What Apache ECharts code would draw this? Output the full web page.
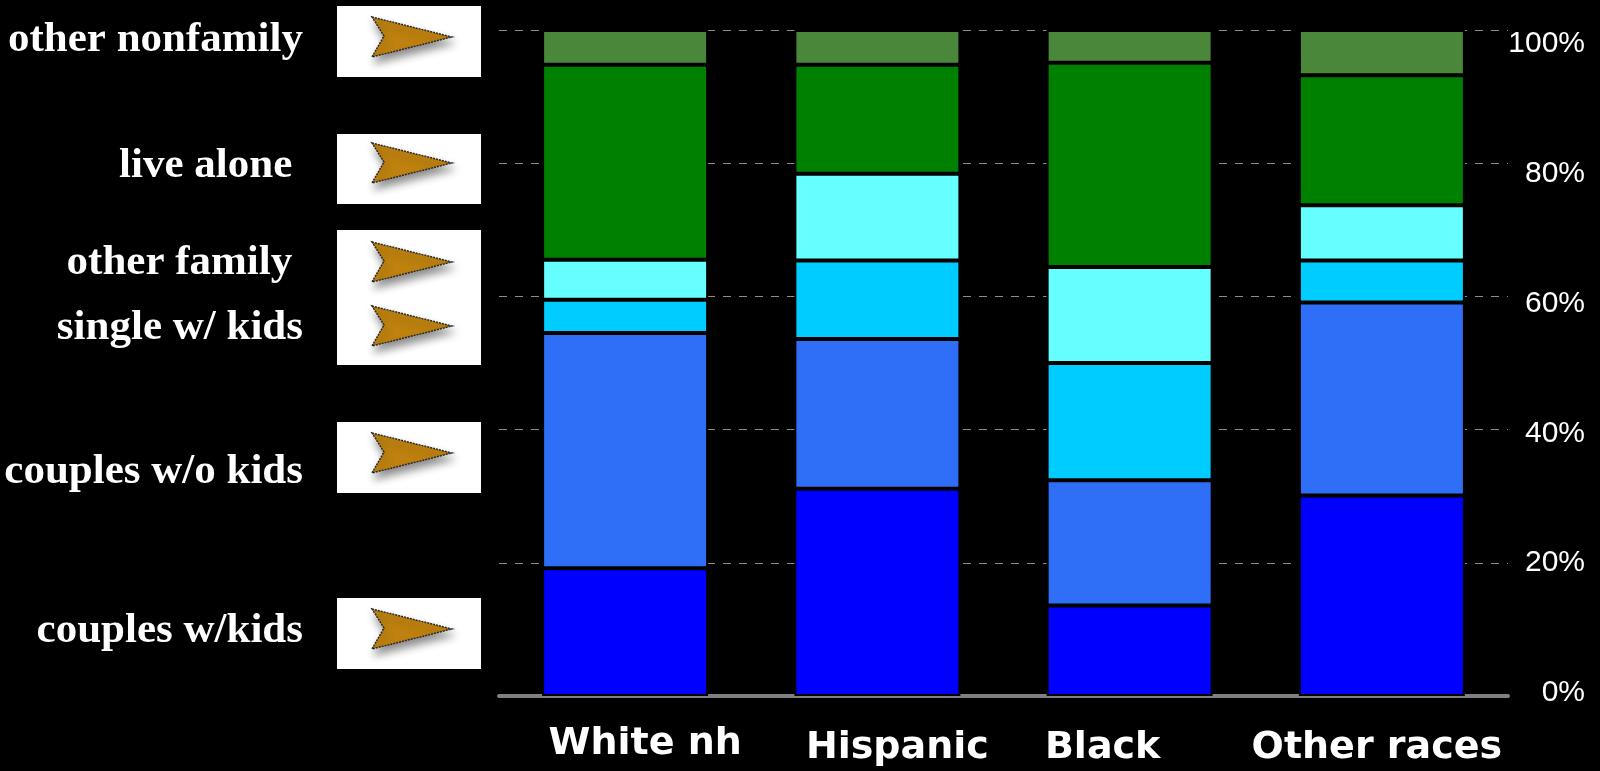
<!DOCTYPE html>
<html>
<head>
<meta charset="utf-8">
<script src="https://cdn.jsdelivr.net/npm/echarts@6/dist/echarts.min.js"></script>
<style>
  html,body{margin:0;padding:0;background:#000;}
  #tu{width:1600px;height:771px;}
</style>
</head>
<body>
<div id="tu"></div>
<script>
// categories
var leibie = ['White nh', 'Hispanic', 'Black', 'Other races']

// household types, bottom to top (percent)
var couplesKids = [19.2, 31.1, 13.6, 30.1]
var couplesNoKids = [35.3, 22.5, 18.8, 29.0]
var singleKids = [5.0, 11.8, 17.6, 6.3]
var otherFamily = [6.0, 13.0, 14.4, 8.3]
var liveAlone = [29.3, 16.4, 30.7, 19.5]
var otherNonfamily = [5.2, 5.2, 4.9, 6.8]

// left side labels, top to bottom
var biaoqian = ['other nonfamily', 'live alone ', 'other family ', 'single w/ kids', 'couples w/o kids', 'couples w/kids']

var yTicks = ['0%', '20%', '40%', '60%', '80%', '100%']

var myChart = echarts.init(document.getElementById('tu'))

// label nudges (the original slide has them placed by hand)
var labPad = [[0, 0, 0, 40], [4, 0, 0, 40], [4, 54, 0, 0], [4, 10, 0, 0]]
var xdata = []
for (var i = 0; i < leibie.length; i++) {
  xdata.push({value: leibie[i], textStyle: {padding: labPad[i]}})
}

function zhu(name, arr, color) {
  return {
    name: name,
    type: 'bar',
    stack: 'all',
    barWidth: 166,
    data: arr,
    itemStyle: {color: color, borderColor: '#000', borderWidth: 2}
  }
}

// arrow boxes and labels
var boxes = [[6, 77], [134, 204], [230, 365], [422, 493], [598, 669]]
var tipY = [37, 163, 262, 326, 453, 629]
var labY = [40, 166, 263, 328, 472, 631]

var tuxing = []
for (var b = 0; b < boxes.length; b++) {
  tuxing.push({
    type: 'rect',
    shape: {x: 337, y: boxes[b][0], width: 144, height: boxes[b][1] - boxes[b][0]},
    style: {fill: '#fff'}
  })
}
for (var a = 0; a < tipY.length; a++) {
  var t = tipY[a]
  tuxing.push({
    type: 'polygon',
    shape: {points: [[372, t - 20], [452, t], [372, t + 20], [384, t - 1]]},
    style: {
      fill: '#bf820f', stroke: '#2a2a2a', lineWidth: 1.5, lineDash: [2, 1],
      shadowColor: 'rgba(0,0,0,0.45)', shadowBlur: 8, shadowOffsetX: 2, shadowOffsetY: 6
    }
  })
  tuxing.push({
    type: 'text',
    x: 303,
    y: labY[a],
    style: {
      text: biaoqian[a],
      fill: '#fff',
      font: 'bold 43px "Liberation Serif", "Times New Roman", serif',
      textAlign: 'right',
      textVerticalAlign: 'middle'
    }
  })
}

var option = {
  backgroundColor: '#000',
  animation: false,
  grid: [
    {left: 499, right: 92, top: 30, bottom: 75},
    // only carries the right-hand tick labels
    {left: 499, right: 92, top: 44, bottom: 78}
  ],
  xAxis: [
    {
      type: 'category',
      gridIndex: 0,
      data: xdata,
      axisTick: {show: false},
      axisLine: {lineStyle: {color: '#808080', width: 4, cap: 'round'}},
      axisLabel: {
        interval: 0,
        color: '#fff',
        fontFamily: '"DejaVu Sans", Verdana, sans-serif',
        fontWeight: 'bold',
        fontSize: 38,
        margin: 29
      }
    },
    {type: 'category', gridIndex: 1, data: leibie, show: false}
  ],
  yAxis: [
    {
      type: 'value',
      gridIndex: 0,
      position: 'right',
      min: 0,
      max: 100,
      interval: 20,
      axisLine: {show: false},
      axisTick: {show: false},
      axisLabel: {show: false},
      splitLine: {lineStyle: {color: '#8c8c8c', width: 1, type: [8, 8]}}
    },
    {
      type: 'value',
      gridIndex: 1,
      position: 'right',
      min: 0,
      max: 100,
      interval: 20,
      axisLine: {show: false},
      axisTick: {show: false},
      splitLine: {show: false},
      axisLabel: {
        color: '#fff',
        fontFamily: '"Liberation Sans", Arial, sans-serif',
        fontSize: 30,
        align: 'right',
        margin: 77,
        formatter: function (v) { return yTicks[v / 20] }
      }
    }
  ],
  series: [
    zhu('couples w/kids', couplesKids, '#0000ff'),
    zhu('couples w/o kids', couplesNoKids, '#2f6ff7'),
    zhu('single w/ kids', singleKids, '#00ccff'),
    zhu('other family', otherFamily, '#66ffff'),
    zhu('live alone', liveAlone, '#008000'),
    zhu('other nonfamily', otherNonfamily, '#4b873b')
  ],
  graphic: tuxing
}

myChart.setOption(option)
</script>
</body>
</html>
